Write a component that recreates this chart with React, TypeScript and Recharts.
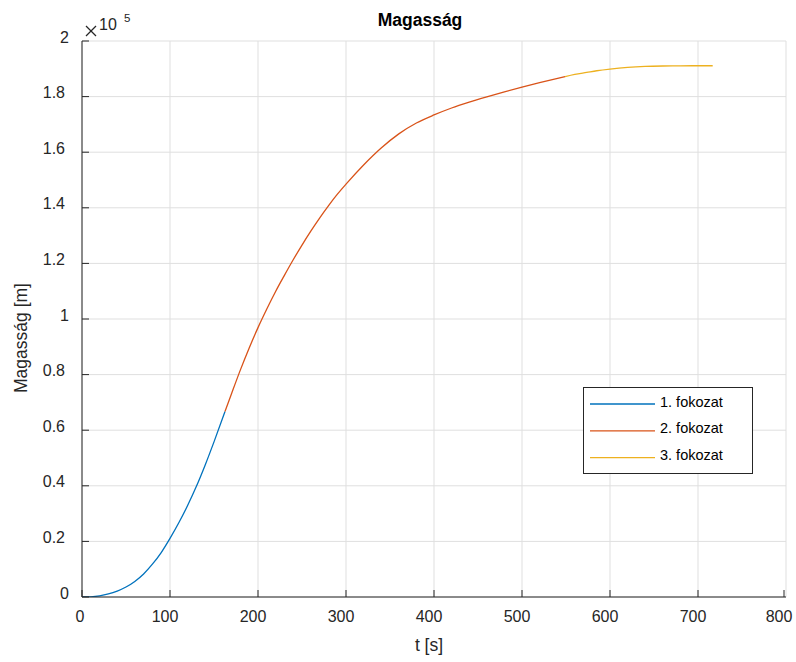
import { LineChart, Line, XAxis, YAxis, CartesianGrid, Legend, Customized } from 'recharts';

// stage 1 (blue)
const STAGE1_T = [0, 10, 20, 30, 40, 50, 60, 70, 80, 90, 100, 110, 120, 130, 140, 150, 162.5];
const STAGE1_H = [0, 80, 420, 1100, 2150, 3600, 5600, 8300, 11800, 16000, 21100, 26700, 32900, 39800, 47500, 55800, 66700];

// stage 2 (orange)
const STAGE2_T = [162.5, 170, 180, 190, 200, 210, 220, 230, 240, 250, 260, 270, 280, 290, 300, 320, 340, 360, 380, 400, 420, 440, 460, 480, 500, 520, 548.9];
const STAGE2_H = [66700, 73200, 81700, 89600, 96900, 103600, 109900, 115700, 121300, 126600, 131600, 136300, 140700, 144800, 148500, 155400, 161500, 166600, 170500, 173400, 175900, 178000, 179900, 181700, 183400, 185000, 187200];

// stage 3 (yellow)
const STAGE3_T = [548.9, 560, 573.5, 585, 600, 620, 640, 660, 680, 700, 716.7];
const STAGE3_H = [187200, 188000, 188700, 189300, 189900, 190500, 190850, 191000, 191050, 191100, 191100];

const SERIES_NAMES = ['1. fokozat', '2. fokozat', '3. fokozat'];
const SERIES_COLORS = ['#0072BD', '#D95319', '#EDB120'];

const X_TICKS = [0, 100, 200, 300, 400, 500, 600, 700, 800];
const Y_TICKS = [0, 20000, 40000, 60000, 80000, 100000, 120000, 140000, 160000, 180000, 200000];
const Y_TICK_LABELS = ['0', '0.2', '0.4', '0.6', '0.8', '1', '1.2', '1.4', '1.6', '1.8', '2'];

const toPoints = (ts: number[], hs: number[]) => ts.map((t, i) => ({ t, h: hs[i] }));

const stage1 = toPoints(STAGE1_T, STAGE1_H);
const stage2 = toPoints(STAGE2_T, STAGE2_H);
const stage3 = toPoints(STAGE3_T, STAGE3_H);
const allStages = [stage1, stage2, stage3];

const FONT = '"Liberation Sans", Arial, Helvetica, sans-serif';
const TEXT = '#262626';
const AXIS = '#262626';
const PLOT_LEFT = 82;
const PLOT_BOTTOM = 597;

const XTick = (props: any) => {
  const { x, payload } = props;
  const label = String(payload.value);
  const dx = label.length === 1 ? -2 : -5;
  return (
    <g>
      <line x1={x} x2={x} y1={PLOT_BOTTOM} y2={PLOT_BOTTOM - 7} stroke={AXIS} strokeWidth={1} />
      <text x={x + dx} y={622} textAnchor="middle" fontSize={16} fill={TEXT} fontFamily={FONT}>
        {label}
      </text>
    </g>
  );
};

const YTick = (props: any) => {
  const { y, payload } = props;
  const label = Y_TICK_LABELS[Y_TICKS.indexOf(payload.value)] ?? '';
  const tx = label.length === 1 ? 69 : 65;
  return (
    <g>
      <line x1={PLOT_LEFT} x2={PLOT_LEFT + 7} y1={y} y2={y} stroke={AXIS} strokeWidth={1} />
      <text x={tx} y={y + 1.5} textAnchor="end" fontSize={16} fill={TEXT} fontFamily={FONT}>
        {label}
      </text>
    </g>
  );
};

const Decorations = () => (
  <g fontFamily={FONT}>
    <text x={420} y={26} textAnchor="middle" fontSize={17.5} fontWeight="bold" fill="#000">
      Magasság
    </text>
    <g stroke={TEXT} strokeWidth={1.2}>
      <line x1={86} y1={26} x2={96} y2={36} />
      <line x1={96} y1={26} x2={86} y2={36} />
    </g>
    <text x={99} y={29.5} fontSize={16} fill={TEXT}>
      10
    </text>
    <text x={124} y={22} fontSize={11.5} fill={TEXT}>
      5
    </text>
    <text x={429} y={651} textAnchor="middle" fontSize={17.5} fill={TEXT}>
      t [s]
    </text>
    <text x={27} y={338} textAnchor="middle" fontSize={17.5} fill={TEXT} transform="rotate(-90, 27, 338)">
      Magasság [m]
    </text>
  </g>
);

const LegendBox = () => (
  <svg width={171} height={88} style={{ display: 'block' }}>
    <rect x={0.5} y={0.5} width={169} height={86} fill="#fff" stroke={AXIS} strokeWidth={1} />
    {SERIES_NAMES.map((name, i) => {
      const ly = 17 + i * 26.8;
      return (
        <g key={name}>
          <line x1={7} x2={72} y1={ly} y2={ly} stroke={SERIES_COLORS[i]} strokeWidth={1.3} />
          <text x={77} y={ly + 2.5} fontSize={14.5} fill="#000" fontFamily={FONT}>
            {name}
          </text>
        </g>
      );
    })}
  </svg>
);

const App = () => {
  return (
    <div style={{ position: 'absolute', left: 0, top: 0, width: 796, height: 662, background: '#fff' }}>
      <LineChart width={796} height={662} margin={{ top: 41, right: 10, left: 0, bottom: 0 }}>
        <CartesianGrid stroke="#dfdfdf" strokeWidth={1} />
        <XAxis
          dataKey="t"
          type="number"
          domain={[0, 800]}
          ticks={X_TICKS}
          height={65}
          axisLine={{ stroke: AXIS, strokeWidth: 1 }}
          tickLine={false}
          tick={<XTick />}
          allowDataOverflow
        />
        <YAxis
          type="number"
          domain={[0, 200000]}
          ticks={Y_TICKS}
          width={82}
          axisLine={{ stroke: AXIS, strokeWidth: 1 }}
          tickLine={false}
          tick={<YTick />}
          allowDataOverflow
        />
        {allStages.map((pts, i) => (
          <Line
            key={SERIES_NAMES[i]}
            data={pts}
            dataKey="h"
            name={SERIES_NAMES[i]}
            type="monotone"
            stroke={SERIES_COLORS[i]}
            strokeWidth={1.3}
            dot={false}
            activeDot={false}
            isAnimationActive={false}
          />
        ))}
        <Legend
          layout="vertical"
          align="center"
          verticalAlign="middle"
          content={<LegendBox />}
          wrapperStyle={{ left: 583, top: 387, width: 171, height: 88 }}
        />
        <Customized component={<Decorations />} />
      </LineChart>
    </div>
  );
};

export default App;
